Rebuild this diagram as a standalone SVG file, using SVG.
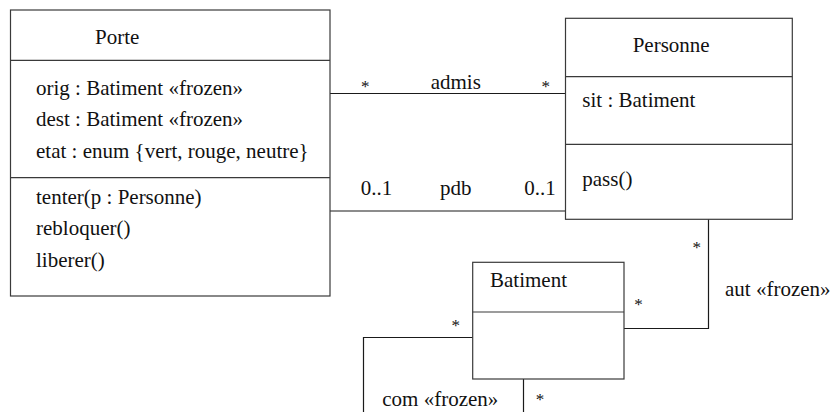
<svg xmlns="http://www.w3.org/2000/svg" width="831" height="412" viewBox="0 0 831 412">
<style>
.box{fill:#fff;stroke:#3a3a3a;stroke-width:1.2}
.div{stroke:#3a3a3a;stroke-width:1.2}
.con{fill:none;stroke:#1a1a1a;stroke-width:1.2}
text{font-family:"Liberation Serif","Times New Roman",serif;font-size:21px;fill:#111}
.m{font-size:17px;text-anchor:middle}
</style>
<rect width="831" height="412" fill="#fff"/>
<g id="connectors">
<path class="con" d="M330,93.5 H566"/>
<path class="con" d="M330,211 H566"/>
<path class="con" d="M624,328.5 H708.5 V219"/>
<path class="con" d="M473,337.5 H363.5 V412"/>
<path class="con" d="M523.5,379 V412"/>
<text x="430.7" y="88.5">admis</text>
<text class="m" x="365.3" y="92">*</text>
<text class="m" x="545.7" y="92">*</text>
<text x="360.7" y="195">0..1</text>
<text x="440" y="195">pdb</text>
<text x="524.3" y="195">0..1</text>
<text class="m" x="696.7" y="253">*</text>
<text class="m" x="638.5" y="310">*</text>
<text x="725" y="296">aut «frozen»</text>
<text class="m" x="455.7" y="331">*</text>
<text class="m" x="540" y="404.5">*</text>
<text x="382.3" y="406">com «frozen»</text>
</g>
<g id="Porte">
<rect class="box" x="10.5" y="10" width="319.5" height="286"/>
<line class="div" x1="10.5" y1="60.3" x2="330" y2="60.3"/>
<line class="div" x1="10.5" y1="177.7" x2="330" y2="177.7"/>
<text x="95" y="43.5">Porte</text>
<text x="36" y="94.5">orig : Batiment «frozen»</text>
<text x="36" y="126.3">dest : Batiment «frozen»</text>
<text x="36" y="158">etat : enum {vert, rouge, neutre}</text>
<text x="36" y="203.5">tenter(p : Personne)</text>
<text x="36" y="235">rebloquer()</text>
<text x="36" y="266.7">liberer()</text>
</g>
<g id="Personne">
<rect class="box" x="565.5" y="18.3" width="226.8" height="201"/>
<line class="div" x1="565.5" y1="76.7" x2="792.3" y2="76.7"/>
<line class="div" x1="565.5" y1="144.3" x2="792.3" y2="144.3"/>
<text x="632.7" y="52">Personne</text>
<text x="582.3" y="106.7">sit : Batiment</text>
<text x="582.3" y="186">pass()</text>
</g>
<g id="Batiment">
<rect class="box" x="472.7" y="262.3" width="151.3" height="116.7"/>
<line class="div" x1="472.7" y1="312" x2="624" y2="312"/>
<text x="490" y="287">Batiment</text>
</g>
</svg>
